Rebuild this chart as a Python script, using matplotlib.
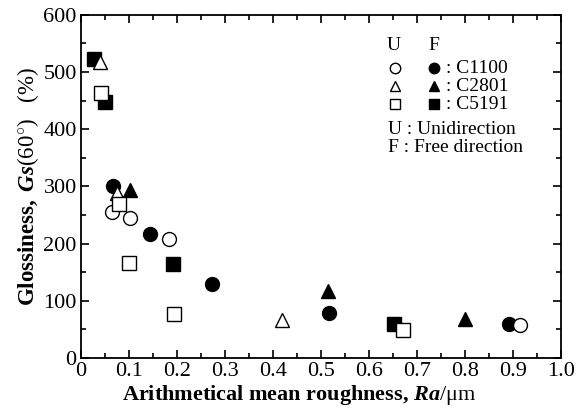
import numpy as np
import matplotlib
matplotlib.use('Agg')
import matplotlib.pyplot as plt
from matplotlib.ticker import MultipleLocator, FixedFormatter, FixedLocator

matplotlib.rcParams['font.family'] = ['Liberation Serif', 'DejaVu Serif']
matplotlib.rcParams['mathtext.fontset'] = 'custom'
matplotlib.rcParams['mathtext.rm'] = 'Liberation Serif'
matplotlib.rcParams['mathtext.it'] = 'Liberation Serif:italic'
matplotlib.rcParams['mathtext.bf'] = 'Liberation Serif:bold'
matplotlib.rcParams['mathtext.bfit'] = 'Liberation Serif:italic:bold'

# U = unidirection (open), F = free direction (filled)
u_c1100_x = [0.065, 0.102, 0.183, 0.916]
u_c1100_y = [255, 244, 208, 57]
f_c1100_x = [0.066, 0.145, 0.274, 0.517, 0.892]
f_c1100_y = [301, 217, 129, 78, 59]
u_c2801_x = [0.040, 0.076, 0.420]
u_c2801_y = [518, 289, 66]
f_c2801_x = [0.102, 0.514, 0.801]
f_c2801_y = [294, 117, 68]
u_c5191_x = [0.041, 0.080, 0.100, 0.194, 0.672]
u_c5191_y = [463, 269, 167, 77, 49]
f_c5191_x = [0.028, 0.050, 0.191, 0.653]
f_c5191_y = [523, 448, 164, 59]

xticks = [0, 0.1, 0.2, 0.3, 0.4, 0.5, 0.6, 0.7, 0.8, 0.9, 1.0]
xticklabels = ['0', '0.1', '0.2', '0.3', '0.4', '0.5', '0.6', '0.7', '0.8', '0.9', '1.0']
alloys = [': C1100', ': C2801', ': C5191']

fig = plt.figure(figsize=(5.86, 4.12), dpi=100)
ax = fig.add_axes([0.138, 0.131, 0.819, 0.833])

ms = 10
ax.plot(f_c1100_x, f_c1100_y, 'o', ms=ms, mfc='k', mec='k', mew=1)
ax.plot(f_c2801_x, f_c2801_y, '^', ms=ms, mfc='k', mec='k', mew=1)
ax.plot(f_c5191_x, f_c5191_y, 's', ms=ms, mfc='k', mec='k', mew=1)
ax.plot(u_c1100_x, u_c1100_y, 'o', ms=ms, mfc='white', mec='k', mew=1)
ax.plot(u_c2801_x, u_c2801_y, '^', ms=ms, mfc='white', mec='k', mew=1)
ax.plot(u_c5191_x, u_c5191_y, 's', ms=ms, mfc='white', mec='k', mew=1)

ax.set_xlim(0, 1.0)
ax.set_ylim(0, 600)
ax.xaxis.set_major_locator(FixedLocator(xticks))
ax.xaxis.set_major_formatter(FixedFormatter(xticklabels))
ax.xaxis.set_minor_locator(MultipleLocator(0.05))
ax.yaxis.set_major_locator(MultipleLocator(100))
ax.yaxis.set_minor_locator(MultipleLocator(50))
ax.tick_params(which='both', direction='in', top=True, right=True, width=1.2, labelsize=16, pad=3)
ax.tick_params(which='major', length=6)
ax.tick_params(which='minor', length=3.5)
for s in ax.spines.values():
    s.set_linewidth(1.3)

ax.set_xlabel(r'$\mathbf{Arithmetical\ mean\ roughness,}\/\mathbfit{Ra}\mathrm{/\mu m}$', fontsize=16, labelpad=1)
ax.xaxis.label.set_x(0.456)
ax.set_ylabel(r'$\mathbf{Glossiness,}\ \mathbfit{Gs}\mathrm{(60^{\circ})\ \ \ (\%)}$', fontsize=16.5, labelpad=2)

# legend block drawn by hand
tr = ax.transAxes
ax.text(0.652, 0.912, 'U', transform=tr, fontsize=14, ha='center', va='center')
ax.text(0.735, 0.912, 'F', transform=tr, fontsize=14, ha='center', va='center')
for i, (mk, name) in enumerate(zip(['o', '^', 's'], alloys)):
    yy = 0.845 - i * 0.0525
    ax.plot([0.654], [yy], mk, ms=7.5, mfc='white', mec='k', mew=1, transform=tr, clip_on=False)
    ax.plot([0.735], [yy], mk, ms=7.5, mfc='k', mec='k', transform=tr, clip_on=False)
    ax.text(0.760, yy, name, transform=tr, fontsize=14, va='center')
ax.text(0.64, 0.666, 'U : Unidirection', transform=tr, fontsize=14, va='center')
ax.text(0.64, 0.613, 'F : Free direction', transform=tr, fontsize=14, va='center')

plt.savefig('out.png', dpi=100)
